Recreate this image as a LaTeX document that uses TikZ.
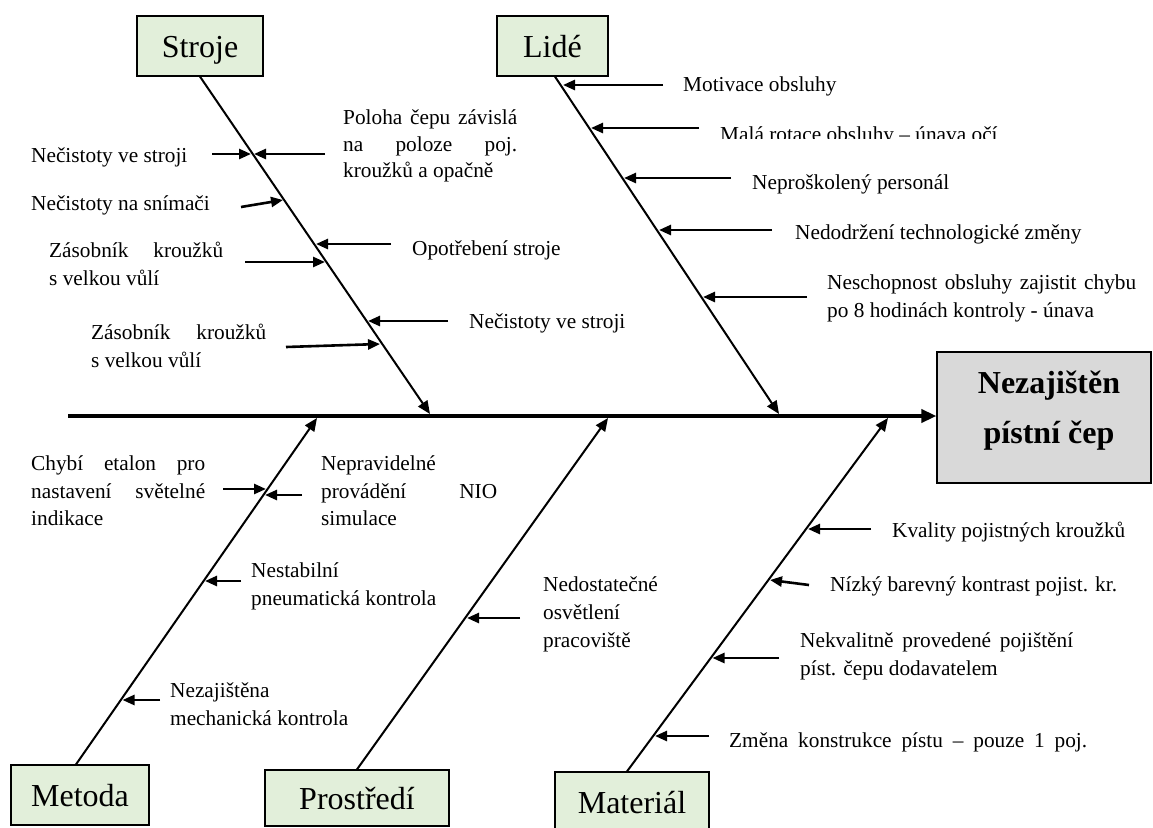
\documentclass[tikz,border=0pt]{standalone}
\usepackage{fontspec}
\setmainfont{Liberation Serif}
\usetikzlibrary{arrows.meta}
\definecolor{catfill}{HTML}{E2EFDA}
\definecolor{effectfill}{HTML}{D9D9D9}

\begin{document}
\begin{tikzpicture}[x=1pt,y=-1pt,
  catbox/.style={draw=black, line width=1.2pt, fill=catfill, inner sep=0pt,
    font=\fontsize{32}{38}\selectfont, text height=22pt, text depth=0pt},
  headbox/.style={draw=black, line width=1.2pt, fill=effectfill, inner sep=0pt},
  headtxt/.style={anchor=base, inner sep=0pt, font=\fontsize{32}{38}\selectfont\bfseries},
  cause/.style={anchor=base west, inner sep=0pt, font=\fontsize{21.3}{25}\selectfont},
  spine/.style={line width=3.5pt, -{Triangle[length=15pt,width=13pt]}},
  bone/.style={line width=2pt, -{Triangle[length=13pt,width=11pt]}},
  twig/.style={line width=2.6pt, -{Triangle[length=12pt,width=10pt]}},
]
\useasboundingbox (0,0) rectangle (1153,827);

% category boxes
\node[catbox, minimum width=126pt, minimum height=60pt] (stroje) at (200,46) {Stroje};
\node[catbox, minimum width=111pt, minimum height=60pt] (lide) at (552.5,46) {Lidé};
\node[catbox, minimum width=138pt, minimum height=60pt] (metoda) at (80,795) {Metoda};
\node[catbox, minimum width=184pt, minimum height=56pt] (prostredi) at (357,798) {Prostředí};
\node[catbox, minimum width=154pt, minimum height=60pt] (material) at (632,802) {Materiál};

% effect box
\node[headbox, minimum width=214pt, minimum height=131pt] (head) at (1044,417.5) {};
\node[headtxt] (headA) at (1049,393) {Nezajištěn};
\node[headtxt] (headB) at (1049,443) {pístní čep};

% spine
\coordinate (tail) at (68,416);
\draw[spine] (tail) -- (tail -| head.west);

% main bones
\coordinate (sTip) at (430,414);
\coordinate (lTip) at (779,414);
\coordinate (mTip) at (317,418);
\coordinate (pTip) at (608,418);
\coordinate (tTip) at (888,418);
\draw[bone] (stroje.south) -- (sTip);
\draw[bone] ([xshift=2.5pt]lide.south) -- (lTip);
\draw[bone] ([xshift=-4pt]metoda.north) -- (mTip);
\draw[bone] (prostredi.north) -- (pTip);
\draw[bone] ([xshift=-5pt]material.north) -- (tTip);

% ---- Stroje causes
\node[cause] (s1) at (31,162) {Nečistoty ve stroji};
\node[cause] (s2a) at (343,124) {\makebox[174pt][s]{Poloha čepu závislá}};
\node[cause] (s2b) at (343,151) {\makebox[174pt][s]{na poloze poj.}};
\node[cause] (s2c) at (343,177) {kroužků a opačně};
\node[cause] (s3) at (31,210) {Nečistoty na snímači};
\node[cause] (s4a) at (49,257) {\makebox[174pt][s]{Zásobník kroužků}};
\node[cause] (s4b) at (49,285) {s velkou vůlí};
\node[cause] (s5) at (412,255) {Opotřebení stroje};
\node[cause] (s6) at (469,328) {Nečistoty ve stroji};
\node[cause] (s7a) at (91,339) {\makebox[175pt][s]{Zásobník kroužků}};
\node[cause] (s7b) at (91,367) {s velkou vůlí};

\coordinate (s1t) at (212,154); \coordinate (s1h) at (251,154);
\coordinate (s2t) at (325,154); \coordinate (s2h) at (254,154);
\coordinate (s3t) at (241,207); \coordinate (s3h) at (283,200);
\coordinate (s4t) at (245,262); \coordinate (s4h) at (325,262);
\coordinate (s5t) at (391,244); \coordinate (s5h) at (316,244);
\coordinate (s6t) at (448,321); \coordinate (s6h) at (368,321);
\coordinate (s7t) at (286,347); \coordinate (s7h) at (380,344);
\foreach \c in {s1,s2,s3,s4,s5,s6,s7} \draw[twig] (\c t) -- (\c h);

% ---- Lidé causes
\node[cause] (l1) at (683,91) {Motivace obsluhy};
\begin{scope}
  \clip (700,100) rectangle (1010,138.5);
  \node[cause] (l2) at (720,141) {Malá rotace obsluhy – únava očí};
\end{scope}
\node[cause] (l3) at (752,189) {Neproškolený personál};
\node[cause] (l4) at (795,239) {Nedodržení technologické změny};
\node[cause] (l5a) at (827,289) {\makebox[309pt][s]{Neschopnost obsluhy zajistit chybu}};
\node[cause] (l5b) at (827,317) {po 8 hodinách kontroly - únava};

\coordinate (l1t) at (663,85);  \coordinate (l1h) at (563,85);
\coordinate (l2t) at (699,128); \coordinate (l2h) at (591,128);
\coordinate (l3t) at (731,178); \coordinate (l3h) at (624,178);
\coordinate (l4t) at (772,230); \coordinate (l4h) at (659,230);
\coordinate (l5t) at (807,297); \coordinate (l5h) at (703,297);
\foreach \c in {l1,l2,l3,l4,l5} \draw[twig] (\c t) -- (\c h);

% ---- Metoda causes
\node[cause] (m1a) at (31,470) {\makebox[174pt][s]{Chybí etalon pro}};
\node[cause] (m1b) at (31,498) {\makebox[174pt][s]{nastavení světelné}};
\node[cause] (m1c) at (31,525) {indikace};
\node[cause] (m2a) at (321,470) {Nepravidelné};
\node[cause] (m2b) at (321,498) {\makebox[176pt][s]{provádění NIO}};
\node[cause] (m2c) at (321,525) {simulace};
\node[cause] (m3a) at (251,577) {Nestabilní};
\node[cause] (m3b) at (251,605) {pneumatická kontrola};
\node[cause] (m4a) at (170,697) {Nezajištěna};
\node[cause] (m4b) at (170,725) {mechanická kontrola};

\coordinate (m1t) at (223,489); \coordinate (m1h) at (266,489);
\coordinate (m2t) at (302,495); \coordinate (m2h) at (265,495);
\coordinate (m3t) at (241,581); \coordinate (m3h) at (205,581);
\coordinate (m4t) at (160,700); \coordinate (m4h) at (122.5,700);
\foreach \c in {m1,m2,m3,m4} \draw[twig] (\c t) -- (\c h);

% ---- Prostředí causes
\node[cause] (p1a) at (543,591) {Nedostatečné};
\node[cause] (p1b) at (543,619) {osvětlení};
\node[cause] (p1c) at (543,647) {pracoviště};
\coordinate (p1t) at (520,618); \coordinate (p1h) at (467,618);
\draw[twig] (p1t) -- (p1h);

% ---- Materiál causes
\node[cause] (t1) at (892,537) {Kvality pojistných kroužků};
\node[cause] (t2) at (830,591) {Nízký barevný kontrast pojist. kr.};
\node[cause] (t3a) at (800,647) {\makebox[273pt][s]{Nekvalitně provedené pojištění}};
\node[cause] (t3b) at (800,675) {píst. čepu dodavatelem};
\node[cause] (t4) at (729,747) {\makebox[358pt][s]{Změna konstrukce pístu – pouze 1 poj.}};

\coordinate (t1t) at (871,529); \coordinate (t1h) at (808,529);
\coordinate (t2t) at (809,585); \coordinate (t2h) at (770,580);
\coordinate (t3t) at (779,658); \coordinate (t3h) at (712.5,658);
\coordinate (t4t) at (709,736); \coordinate (t4h) at (655,736);
\foreach \c in {t1,t2,t3,t4} \draw[twig] (\c t) -- (\c h);

\end{tikzpicture}
\end{document}
